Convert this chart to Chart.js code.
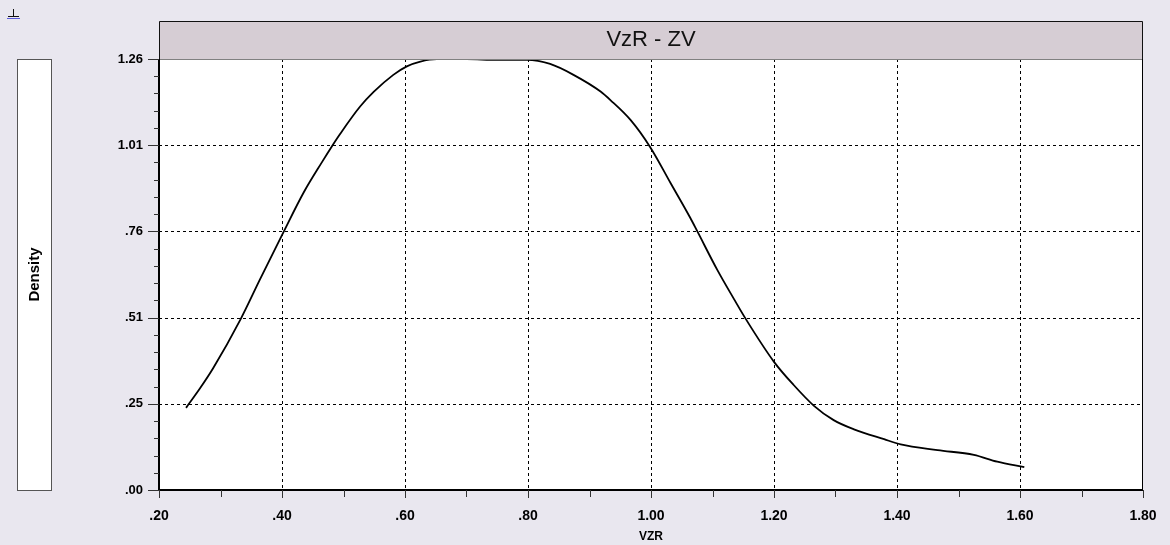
<!DOCTYPE html>
<html>
<head>
<meta charset="utf-8">
<title>VzR - ZV</title>
<script src="https://cdn.jsdelivr.net/npm/chart.js@4/dist/chart.umd.min.js"></script>
<style>
  html, body { margin: 0; padding: 0; background: #e9e7ef; }
  canvas { display: block; }
</style>
</head>
<body>
<canvas id="densityChart" width="1170" height="545"></canvas>
<script>
// kernel density of VZR
const vzr = [0.244, 0.267, 0.288, 0.333, 0.364, 0.402, 0.435, 0.465, 0.481, 0.495,
             0.527, 0.549, 0.581, 0.603, 0.625, 0.652, 0.700, 0.750, 0.798, 0.836,
             0.874, 0.918, 0.934, 0.967, 0.999, 1.032, 1.064, 1.075, 1.108, 1.135,
             1.154, 1.200, 1.232, 1.265, 1.297, 1.330, 1.379, 1.406, 1.466, 1.525,
             1.563, 1.607];
const density = [0.241, 0.299, 0.357, 0.502, 0.617, 0.755, 0.872, 0.962, 1.008, 1.046,
                 1.125, 1.168, 1.218, 1.243, 1.257, 1.264, 1.264, 1.262, 1.262, 1.250,
                 1.218, 1.169, 1.144, 1.085, 1.005, 0.900, 0.798, 0.760, 0.645, 0.560,
                 0.502, 0.376, 0.308, 0.247, 0.205, 0.178, 0.149, 0.134, 0.117, 0.103,
                 0.083, 0.067];

const xTicks = [0.2, 0.4, 0.6, 0.8, 1.0, 1.2, 1.4, 1.6, 1.8];
const xTickLabels = ['.20', '.40', '.60', '.80', '1.00', '1.20', '1.40', '1.60', '1.80'];
const yTicks = [0, 0.2529, 0.5058, 0.7587, 1.0116, 1.2645];
const yTickLabels = ['.00', '.25', '.51', '.76', '1.01', '1.26'];

const chartTitle = 'VzR - ZV';
const yTitle = 'Density';
const xTitle = 'VZR';

const sans = '"Liberation Sans", Arial, sans-serif';

const points = vzr.map((v, i) => ({ x: v, y: density[i] }));

// background panels, title bar and the "Density" box
const frame = {
  id: 'frame',
  beforeDraw(chart) {
    const { ctx, chartArea: a } = chart;
    ctx.save();
    ctx.fillStyle = '#e9e7ef';
    ctx.fillRect(0, 0, chart.width, chart.height);

    // little toolbar glyph in the corner
    ctx.strokeStyle = '#111';
    ctx.lineWidth = 1;
    ctx.beginPath();
    ctx.moveTo(13.5, 9); ctx.lineTo(13.5, 16);
    ctx.moveTo(8, 16.5); ctx.lineTo(19, 16.5);
    ctx.stroke();
    ctx.strokeStyle = '#5a5adc';
    ctx.beginPath();
    ctx.moveTo(7, 18.5); ctx.lineTo(20, 18.5);
    ctx.stroke();

    // y title box
    ctx.fillStyle = '#ffffff';
    ctx.fillRect(17, a.top, 35, a.bottom - a.top);
    ctx.strokeStyle = '#555';
    ctx.strokeRect(17.5, a.top + 0.5, 34, a.bottom - a.top);
    ctx.translate(35, (a.top + a.bottom) / 2);
    ctx.rotate(-Math.PI / 2);
    ctx.fillStyle = '#000';
    ctx.font = 'bold 15px ' + sans;
    ctx.textAlign = 'center';
    ctx.textBaseline = 'middle';
    ctx.fillText(yTitle, 0, 0);
    ctx.setTransform(1, 0, 0, 1, 0, 0);

    // title bar
    ctx.fillStyle = '#d6cdd4';
    ctx.fillRect(a.left, 21, a.right - a.left, a.top - 21);
    ctx.strokeStyle = '#111';
    ctx.beginPath();
    ctx.moveTo(a.left + 0.5, a.top); ctx.lineTo(a.left + 0.5, 21.5);
    ctx.lineTo(a.right - 0.5, 21.5); ctx.lineTo(a.right - 0.5, a.top);
    ctx.stroke();
    ctx.fillStyle = '#111';
    ctx.font = '22px ' + sans;
    ctx.textAlign = 'center';
    ctx.textBaseline = 'middle';
    ctx.fillText(chartTitle, (a.left + a.right) / 2, 40);

    // plot area
    ctx.fillStyle = '#ffffff';
    ctx.fillRect(a.left, a.top, a.right - a.left, a.bottom - a.top);
    ctx.restore();
  },
  beforeDatasetsDraw(chart) {
    const { ctx, chartArea: a, scales: { x, y } } = chart;
    ctx.save();
    ctx.strokeStyle = '#000';
    ctx.lineWidth = 1;
    ctx.setLineDash([3, 3]);
    ctx.beginPath();
    xTicks.slice(1, -1).forEach(v => {
      const px = Math.round(x.getPixelForValue(v)) + 0.5;
      ctx.moveTo(px, a.top); ctx.lineTo(px, a.bottom);
    });
    yTicks.slice(1, -1).forEach(v => {
      const py = Math.round(y.getPixelForValue(v)) + 0.5;
      ctx.moveTo(a.left, py); ctx.lineTo(a.right, py);
    });
    ctx.stroke();
    ctx.restore();
  },
  afterDatasetsDraw(chart) {
    const { ctx, chartArea: a, scales: { x, y } } = chart;
    ctx.save();
    ctx.lineWidth = 1;

    // top edge (bottom of the title bar)
    ctx.strokeStyle = '#808080';
    ctx.beginPath();
    ctx.moveTo(a.left, a.top + 0.5); ctx.lineTo(a.right, a.top + 0.5);
    ctx.stroke();

    // axes and right edge
    ctx.strokeStyle = '#000';
    ctx.lineWidth = 2;
    ctx.beginPath();
    ctx.moveTo(a.left, a.top); ctx.lineTo(a.left, a.bottom);
    ctx.lineTo(a.right, a.bottom);
    ctx.stroke();
    ctx.lineWidth = 1;
    ctx.beginPath();
    ctx.moveTo(a.right - 0.5, a.top); ctx.lineTo(a.right - 0.5, a.bottom);
    ctx.stroke();

    // y tick marks, four minor ones between majors
    ctx.strokeStyle = '#333';
    ctx.beginPath();
    yTicks.forEach((v, i) => {
      const py = Math.round(y.getPixelForValue(v)) + 0.5;
      ctx.moveTo(a.left - 11, py); ctx.lineTo(a.left, py);
      if (i < yTicks.length - 1) {
        const step = (yTicks[i + 1] - v) / 5;
        for (let k = 1; k < 5; k++) {
          const my = Math.round(y.getPixelForValue(v + step * k)) + 0.5;
          ctx.moveTo(a.left - 5, my); ctx.lineTo(a.left, my);
        }
      }
    });
    // x tick marks, one minor between majors
    xTicks.forEach((v, i) => {
      const px = Math.round(x.getPixelForValue(v)) + 0.5;
      ctx.moveTo(px, a.bottom); ctx.lineTo(px, a.bottom + 8);
      if (i < xTicks.length - 1) {
        const mx = Math.round(x.getPixelForValue((v + xTicks[i + 1]) / 2)) + 0.5;
        ctx.moveTo(mx, a.bottom); ctx.lineTo(mx, a.bottom + 7);
      }
    });
    ctx.stroke();
    ctx.restore();
  }
};

new Chart(document.getElementById('densityChart'), {
  type: 'line',
  data: {
    datasets: [{
      data: points,
      borderColor: '#000',
      borderWidth: 1.8,
      pointRadius: 0,
      fill: false,
      cubicInterpolationMode: 'monotone'
    }]
  },
  options: {
    responsive: false,
    animation: false,
    layout: { padding: { top: 59, right: 27, left: 0, bottom: 0 } },
    plugins: {
      legend: { display: false },
      tooltip: { enabled: false }
    },
    scales: {
      x: {
        type: 'linear',
        min: 0.2,
        max: 1.8,
        grid: { display: false },
        border: { display: false },
        afterBuildTicks: scale => { scale.ticks = xTicks.map(v => ({ value: v })); },
        afterFit: scale => { scale.height = 55; },
        ticks: {
          autoSkip: false,
          maxRotation: 0,
          padding: 10,
          color: '#000',
          font: { family: sans, size: 14, weight: 'bold' },
          callback: (v, i) => xTickLabels[i]
        },
        title: {
          display: true,
          text: xTitle,
          color: '#000',
          font: { family: sans, size: 12, weight: 'bold' },
          padding: { top: 0, bottom: 1 }
        }
      },
      y: {
        min: 0,
        max: yTicks[yTicks.length - 1],
        grid: { display: false },
        border: { display: false },
        afterBuildTicks: scale => { scale.ticks = yTicks.map(v => ({ value: v })); },
        afterFit: scale => { scale.width = 159; },
        ticks: {
          autoSkip: false,
          padding: 8,
          color: '#000',
          font: { family: sans, size: 13, weight: 'bold' },
          callback: (v, i) => yTickLabels[i]
        }
      }
    }
  },
  plugins: [frame]
});
</script>
</body>
</html>
